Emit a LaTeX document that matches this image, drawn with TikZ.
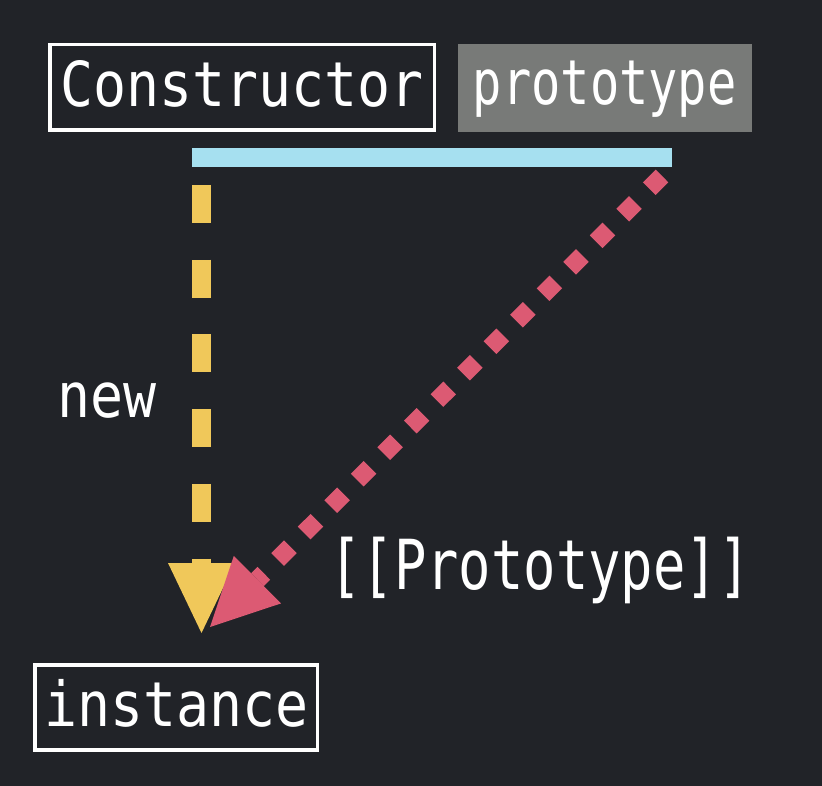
\documentclass[tikz,border=0pt]{standalone}
\usepackage{fontspec}
\usetikzlibrary{arrows.meta}
% Monospaced families at different horizontal widths
\newfontfamily\monoreg{DejaVu Sans Mono}[FakeStretch=0.885]
\newfontfamily\mononarrow{DejaVu Sans Mono}[FakeStretch=0.785]
\newfontfamily\monotall{DejaVu Sans Mono}[FakeStretch=0.78]

\definecolor{bgdark}{HTML}{212328}
\definecolor{protogray}{HTML}{787A78}
\definecolor{barblue}{HTML}{A6E0F0}
\definecolor{newyellow}{HTML}{F0C85A}
\definecolor{linkpink}{HTML}{DC5A73}

\tikzset{
  codetext/.style={text=white, inner sep=0pt, font=\monoreg\fontsize{62}{62}\selectfont},
  outlinebox/.style={codetext, draw=white, line width=3.5pt, text depth=0pt},
  graybox/.style={codetext, fill=protogray, text depth=0pt,
    font=\mononarrow\fontsize{62}{62}\selectfont},
  newarrow/.style={draw=newyellow, line width=19pt, dash pattern=on 38pt off 36.7pt,
    -{Triangle[length=70pt,width=67pt,line width=0pt]}},
  protoarrow/.style={draw=linkpink, line width=18pt, dash pattern=on 18pt off 19.5pt,
    -{Triangle[length=67pt,width=67pt,line width=0pt]}},
}

\begin{document}
\begin{tikzpicture}[x=1pt, y=-1pt]
  % canvas
  \fill[bgdark] (0,0) rectangle (822,786);
  \useasboundingbox (0,0) rectangle (822,786);

  % constructor function and its prototype property
  \node[outlinebox, minimum width=384.2pt, minimum height=85.5pt, text height=39pt]
    (ctor) at (242.2,87.2) {Constructor};
  \node[graybox, minimum width=294pt, minimum height=87.7pt, text height=34.2pt]
    (proto) at (604.7,87.9) {prototype};

  % prototype object
  \node[fill=barblue, inner sep=0pt, minimum width=480pt, minimum height=19pt]
    (bar) at (432,157.5) {};

  % instance
  \node[outlinebox, minimum width=282.2pt, minimum height=85.2pt, text height=38.6pt]
    (inst) at (176.2,707.4) {instance};

  % connector end points
  \coordinate (newstart) at (201.5,185);
  \coordinate (newtip) at (201.5,633);
  \coordinate (linkstart) at (662,176);
  \coordinate (linktip) at (210,627);

  % new: constructor creates the instance
  \draw[newarrow] (newstart) -- (newtip);
  % [[Prototype]]: instance links to the prototype object
  \draw[protoarrow] (linkstart) -- (linktip);

  % labels
  \node[codetext, anchor=base] (newlabel) at (107.3,417) {new};
  \node[codetext, anchor=base, font=\monotall\fontsize{69}{69}\selectfont]
    (linklabel) at (540,589) {[[Prototype]]};
\end{tikzpicture}
\end{document}
